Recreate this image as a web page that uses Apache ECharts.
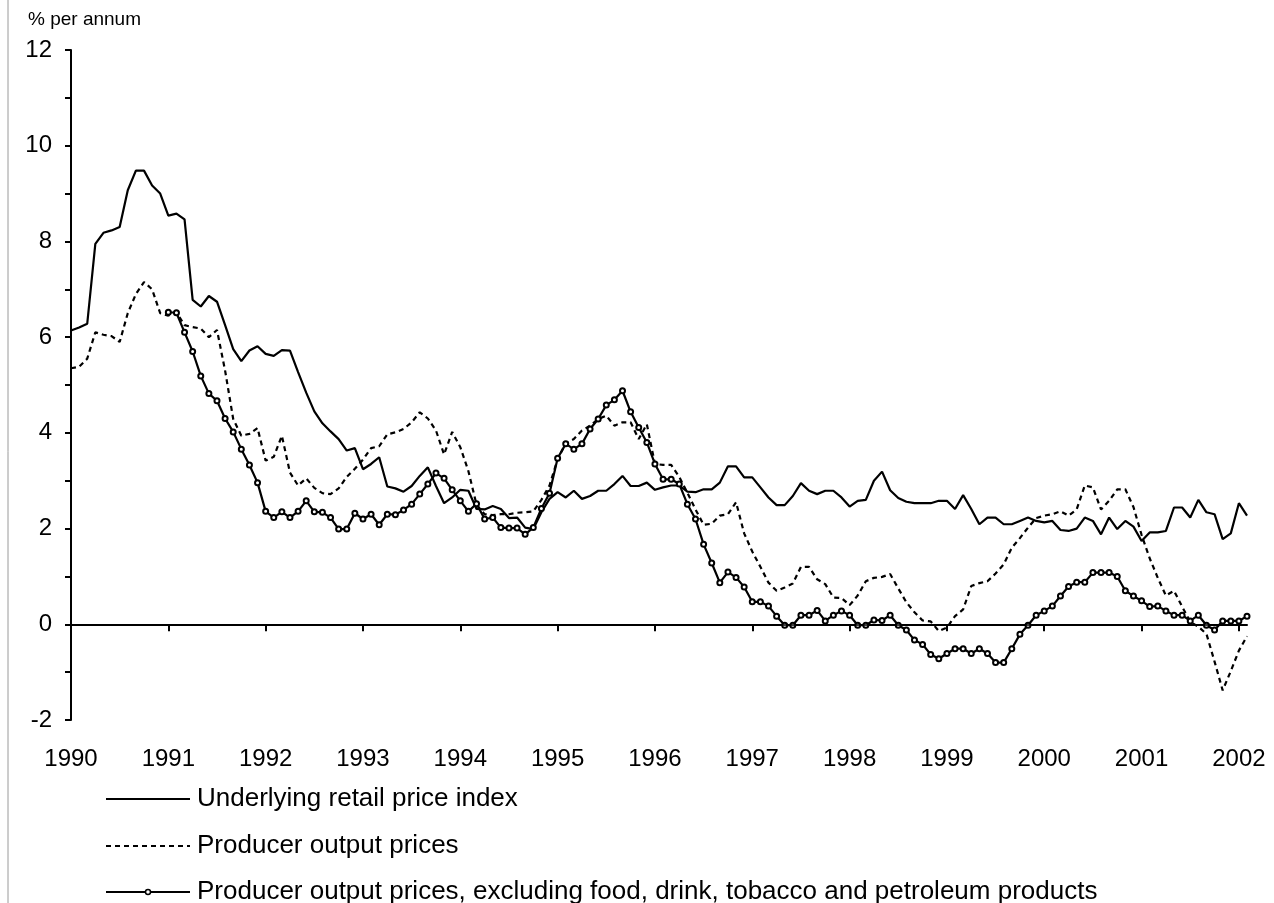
<!DOCTYPE html>
<html>
<head>
<meta charset="utf-8">
<title>Inflation measures</title>
<script src="https://cdn.jsdelivr.net/npm/echarts@6/dist/echarts.min.js"></script>
<style>
  html, body { margin: 0; padding: 0; background: #fff; }
  #chart { width: 1274px; height: 903px; }
</style>
</head>
<body>
<div id="chart"></div>
<script>
// monthly, Jan 1990 to Feb 2002
const startYear = 1990;
const monthCount = 146;

// underlying retail price index (RPIX), % per annum
const rpix = [
  6.14, 6.2, 6.28, 7.95, 8.18, 8.23, 8.3, 9.07, 9.48, 9.48, 9.17, 9.0,
  8.54, 8.58, 8.46, 6.78, 6.64, 6.86, 6.74, 6.25, 5.75, 5.5, 5.72, 5.81,
  5.65, 5.61, 5.73, 5.72, 5.27, 4.84, 4.45, 4.2, 4.03, 3.87, 3.63, 3.68,
  3.24, 3.35, 3.49, 2.88, 2.84, 2.77, 2.89, 3.1, 3.28, 2.89, 2.53, 2.65,
  2.81, 2.79, 2.41, 2.4, 2.47, 2.41, 2.22, 2.23, 2.02, 1.99, 2.34, 2.62,
  2.76, 2.65, 2.79, 2.62, 2.68, 2.79, 2.79, 2.93, 3.1, 2.89, 2.89, 2.96,
  2.81, 2.86, 2.9, 2.9, 2.77, 2.76, 2.82, 2.82, 2.96, 3.3, 3.3, 3.07,
  3.07, 2.86, 2.65, 2.49, 2.49, 2.68, 2.95, 2.79, 2.72, 2.79, 2.79, 2.65,
  2.46, 2.58, 2.6, 3.0, 3.19, 2.8, 2.64, 2.56, 2.53, 2.53, 2.53, 2.58,
  2.58, 2.41, 2.7, 2.41, 2.09, 2.23, 2.23, 2.09, 2.09, 2.16, 2.23, 2.16,
  2.13, 2.16, 1.97, 1.95, 2.0, 2.23, 2.16, 1.88, 2.23, 1.99, 2.16, 2.04,
  1.74, 1.92, 1.92, 1.95, 2.44, 2.44, 2.23, 2.6, 2.34, 2.3, 1.78, 1.9,
  2.53, 2.27
];

// producer output prices
const outputPrices = [
  5.35, 5.38, 5.55, 6.1, 6.05, 6.02, 5.9, 6.5, 6.9, 7.15, 7.0, 6.5,
  6.45, 6.52, 6.25, 6.21, 6.18, 6.0, 6.15, 5.3, 4.29, 3.94, 3.98, 4.1,
  3.42, 3.5, 3.94, 3.17, 2.9, 3.05, 2.85, 2.74, 2.72, 2.84, 3.08, 3.25,
  3.44, 3.68, 3.72, 3.97, 4.01, 4.08, 4.22, 4.43, 4.3, 4.05, 3.55, 4.02,
  3.7, 3.2, 2.5, 2.3, 2.28, 2.3, 2.3, 2.33, 2.34, 2.36, 2.6, 2.9,
  3.45, 3.78, 3.87, 4.05, 4.15, 4.29, 4.36, 4.15, 4.22, 4.22, 3.87, 4.18,
  3.35, 3.33, 3.33, 3.08, 2.75, 2.4, 2.08, 2.1, 2.27, 2.3, 2.55, 1.9,
  1.52, 1.2, 0.87, 0.7, 0.77, 0.85, 1.2, 1.2, 0.94, 0.84, 0.56, 0.55,
  0.4, 0.6, 0.9, 0.97, 0.99, 1.05, 0.75, 0.46, 0.25, 0.08, 0.06, -0.14,
  -0.07, 0.17, 0.31, 0.8, 0.86, 0.9, 1.06, 1.25, 1.6, 1.8, 2.02, 2.22,
  2.27, 2.3, 2.36, 2.27, 2.4, 2.9, 2.86, 2.4, 2.58, 2.82, 2.82, 2.45,
  1.87, 1.38, 0.97, 0.6, 0.7, 0.37, 0.05, -0.05, -0.2, -0.78, -1.38, -0.98,
  -0.55, -0.25
];

// producer output prices excluding food, drink, tobacco and petroleum (from Jan 1991)
const outputPricesCore = [
  null, null, null, null, null, null, null, null, null, null, null, null,
  6.52, 6.51, 6.1, 5.7, 5.19, 4.82, 4.67, 4.3, 4.02, 3.66, 3.33, 2.96,
  2.36, 2.23, 2.35, 2.23, 2.36, 2.58, 2.35, 2.34, 2.23, 1.99, 1.99, 2.32,
  2.2, 2.3, 2.08, 2.3, 2.29, 2.39, 2.51, 2.72, 2.93, 3.16, 3.05, 2.81,
  2.58, 2.36, 2.52, 2.2, 2.23, 2.02, 2.01, 2.01, 1.88, 2.02, 2.42, 2.74,
  3.47, 3.77, 3.66, 3.77, 4.08, 4.29, 4.58, 4.69, 4.88, 4.44, 4.11, 3.8,
  3.35, 3.03, 3.03, 2.93, 2.51, 2.2, 1.67, 1.28, 0.87, 1.09, 0.98, 0.78,
  0.47, 0.47, 0.38, 0.17, -0.02, -0.02, 0.19, 0.19, 0.29, 0.07, 0.19, 0.28,
  0.19, -0.02, -0.02, 0.09, 0.08, 0.19, -0.02, -0.12, -0.33, -0.42, -0.63, -0.72,
  -0.61, -0.51, -0.51, -0.61, -0.51, -0.61, -0.8, -0.8, -0.51, -0.21, -0.02, 0.19,
  0.28, 0.38, 0.59, 0.79, 0.88, 0.88, 1.08, 1.08, 1.08, 1.0, 0.7, 0.59,
  0.49, 0.37, 0.38, 0.28, 0.19, 0.19, 0.07, 0.19, -0.02, -0.12, 0.07, 0.07,
  0.07, 0.17
];

const seriesNames = [
  'Underlying retail price index',
  'Producer output prices',
  'Producer output prices, excluding food, drink, tobacco and petroleum products'
];

const months = [];
for (let k = 0; k < monthCount; k++) {
  const y = startYear + Math.floor(k / 12);
  const m = (k % 12) + 1;
  months.push(y + '-' + (m < 10 ? '0' + m : m));
}

const fontFamily = '"Liberation Sans", Arial, Helvetica, sans-serif';
const dash = [5, 4];

// hand-drawn key under the plot: line sample + label per row
const keyX = 106;
const keyLen = 84;
const keyRows = [799, 846, 892];
const keyGraphics = [];
keyRows.forEach(function (y, idx) {
  keyGraphics.push({
    type: 'line',
    shape: { x1: keyX, y1: y, x2: keyX + keyLen, y2: y },
    style: { stroke: '#000', lineWidth: 2, lineDash: idx === 1 ? dash : null }
  });
  if (idx === 2) {
    keyGraphics.push({
      type: 'circle',
      shape: { cx: keyX + keyLen / 2, cy: y, r: 2.5 },
      style: { fill: '#fff', stroke: '#000', lineWidth: 1.5 }
    });
  }
  keyGraphics.push({
    type: 'text',
    x: keyX + keyLen + 7,
    y: y,
    style: {
      text: seriesNames[idx],
      font: '26px ' + fontFamily,
      fill: '#000',
      verticalAlign: 'middle'
    }
  });
});

const myChart = echarts.init(document.getElementById('chart'), null, { renderer: 'canvas' });
const option = {
  animation: false,
  backgroundColor: '#fff',
  textStyle: { fontFamily: fontFamily, color: '#000' },
  grid: { left: 71, right: 27, top: 50, bottom: 183, containLabel: false, outerBoundsMode: 'none' },
  graphic: [
    {
      type: 'text',
      left: 28,
      top: 10,
      style: { text: '% per annum', font: '19px ' + fontFamily, fill: '#000' }
    },
    {
      type: 'line',
      shape: { x1: 8, y1: 0, x2: 8, y2: 903 },
      style: { stroke: '#9a9a9a', lineWidth: 1 }
    }
  ].concat(keyGraphics),
  xAxis: {
    type: 'category',
    data: months,
    boundaryGap: false,
    axisLine: { lineStyle: { color: '#000', width: 2 } },
    axisTick: { interval: 11, length: 7, lineStyle: { color: '#000', width: 2 } },
    axisLabel: {
      interval: 11,
      margin: 27,
      fontSize: 24,
      color: '#000',
      formatter: function (value) {
        return value.slice(0, 4);
      }
    },
    splitLine: { show: false }
  },
  yAxis: {
    type: 'value',
    min: -2,
    max: 12,
    interval: 1,
    axisLine: { show: true, lineStyle: { color: '#000', width: 2 } },
    axisTick: { show: true, length: 6, lineStyle: { color: '#000', width: 2 } },
    axisLabel: {
      margin: 19,
      fontSize: 24,
      color: '#000',
      formatter: function (value) {
        return value % 2 === 0 ? String(value) : '';
      }
    },
    splitLine: { show: false }
  },
  series: [
    {
      name: seriesNames[0],
      type: 'line',
      data: rpix,
      symbol: 'none',
      lineStyle: { color: '#000', width: 2.2 },
      markLine: {
        silent: true,
        symbol: 'none',
        label: { show: false },
        lineStyle: { color: '#000', width: 1.5, type: 'solid' },
        data: [{ yAxis: 0 }]
      },
      z: 3
    },
    {
      name: seriesNames[1],
      type: 'line',
      data: outputPrices,
      symbol: 'none',
      lineStyle: { color: '#000', width: 2.2, type: dash },
      z: 2
    },
    {
      name: seriesNames[2],
      type: 'line',
      data: outputPricesCore,
      symbol: 'emptyCircle',
      symbolSize: 5,
      showSymbol: true,
      showAllSymbol: true,
      itemStyle: { color: '#000', borderWidth: 1.5 },
      lineStyle: { color: '#000', width: 2.2 },
      z: 4
    }
  ]
};
myChart.setOption(option);
</script>
</body>
</html>
